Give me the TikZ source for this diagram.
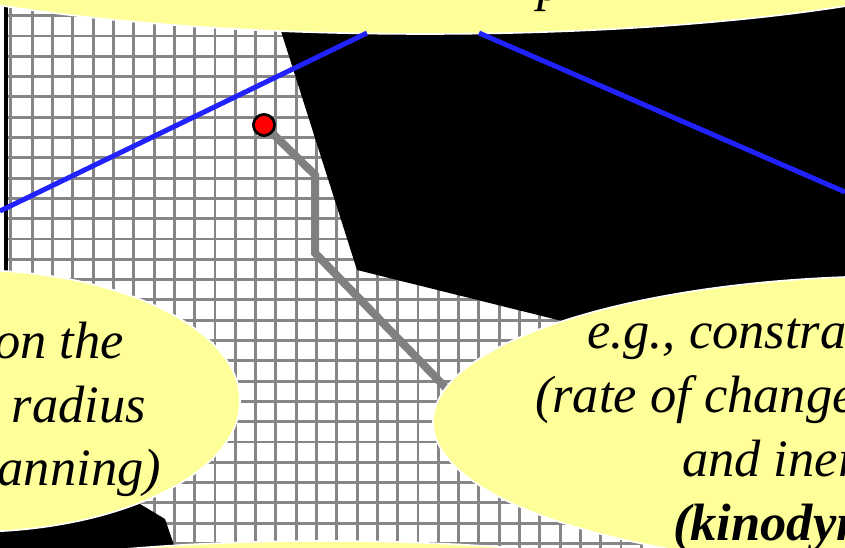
\documentclass[tikz,border=0pt]{standalone}
\usepackage{fontspec}
\setmainfont{Liberation Serif}
\usetikzlibrary{shapes.geometric}
\tikzset{
  bubble/.style={ellipse,fill=bubbleyellow,draw=white,line width=1.6pt,inner sep=0pt,outer sep=0pt},
  gridline/.style={draw=gridgray,line width=2.9pt},
  sight/.style={draw=sightblue,line width=5pt},
  route/.style={draw=routegray,line width=8pt,miter limit=10},
  wall/.style={fill=black,draw=none},
  marker/.style={circle,fill=red,draw=black,line width=2.6pt,minimum size=21pt,inner sep=0pt},
  saying/.style={font=\fontsize{52.5}{62}\selectfont\itshape,inner sep=0pt,outer sep=0pt,text=black},
}
\definecolor{bubbleyellow}{HTML}{FFFF99}
\definecolor{gridgray}{HTML}{868686}
\definecolor{sightblue}{HTML}{2222FF}
\definecolor{routegray}{HTML}{808080}
\begin{document}
\begin{tikzpicture}[x=1pt,y=-1pt]
\useasboundingbox (0,0) rectangle (845,548);
\clip (0,0) rectangle (845,548);
\fill[white] (0,0) rectangle (845,548);
% grid
\foreach \k in {0,...,40} \draw[gridline] ({32.3+20.3*\k},8) -- ({32.3+20.3*\k},548);
\draw[gridline] (10.5,8) -- (10.5,548);
\foreach \k in {-1,...,25} \draw[gridline] (7,{36+20.3*\k}) -- (845,{36+20.3*\k});
\draw[black,line width=3.2pt] (6,7) -- (6,300);
% obstacles
\fill[wall] (280,28) -- (357,270) -- (570,323) -- (845,335) -- (845,0) -- (280,0) -- cycle;
\fill[wall] (0,470) -- (135,501) -- (165,519) -- (175,548) -- (0,548) -- cycle;
% route and robot
\coordinate (r1) at (315,175);
\coordinate (r2) at (315,253);
\coordinate (r3) at (448,390);
\node[marker] (robot) at (264,125) {};
\draw[route] (robot) -- (r1) -- (r2) -- (r3);
\node[marker] at (264,125) {};
% bubbles
\node[bubble,minimum width=1240pt,minimum height=210pt] (topbubble) at (425,-71) {};
\node[bubble,minimum width=540pt,minimum height=262pt] (leftbubble) at (-30,401) {};
\node[bubble,minimum width=934pt,minimum height=292pt] (rightbubble) at (900,422) {};
\node[bubble,minimum width=800pt,minimum height=120pt] (bottombubble) at (325,601) {};
% view cone
\coordinate (c1) at (367,33);
\coordinate (c2) at (0,211);
\coordinate (c3) at (479,33);
\coordinate (c4) at (845,192);
\draw[sight] (c1) -- (c2);
\draw[sight] (c3) -- (c4);
% texts
\node[saying,anchor=base east] (t1) at (124,358) {on the};
\node[saying,anchor=base east] (t2) at (146,422) {radius};
\node[saying,anchor=base east] (t3) at (161,485) {anning)};
\node[saying,anchor=base west] (t4) at (587,348) {e.g., constra};
\node[saying,anchor=base west] (t5) at (535,412) {(rate of change};
\node[saying,anchor=base west] (t6) at (682,476) {and iner};
\node[saying,anchor=base west] (t7) at (673,540) {\bfseries (kinodyn};
\node[saying,anchor=base west] (t8) at (537,1) {p};
\end{tikzpicture}
\end{document}
